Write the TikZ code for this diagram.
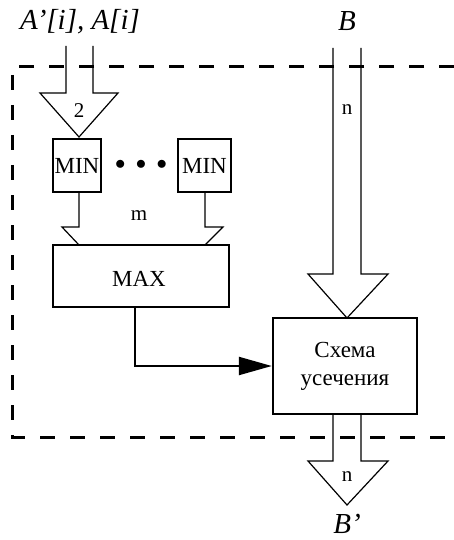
\documentclass[tikz,border=0pt]{standalone}
\usepackage{fontspec}
\setmainfont{Liberation Serif}
\usetikzlibrary{arrows.meta}
\begin{document}
\begin{tikzpicture}[x=1pt,y=-1pt,
  blk/.style={draw,line width=2.4pt,inner sep=0pt},
  btxt/.style={font=\fontsize{23}{28}\selectfont,inner sep=0pt,align=center},
  bus/.style={draw,line width=1.2pt,line join=miter},
  lbl/.style={font=\fontsize{29}{31}\selectfont\itshape,inner sep=0pt},
  small/.style={font=\fontsize{21}{23}\selectfont,inner sep=0pt},
  frame/.style={line width=3pt,dash pattern=on 15pt off 15pt}]
\useasboundingbox (0,0) rectangle (454,540);
% frame
\draw[frame] (454,67) -- (12,67) -- (12,437) -- (454,437);
% labels
\node[lbl] (ain) at (80,22) {A’[i], A[i]};
\node[lbl] (bin) at (347,21) {B};
\node[lbl] (bout) at (347,524) {B’};
% blocks
\node[blk,minimum width=48pt,minimum height=53pt] (min1) at (77,165.5) {};
\node[btxt] (min1t) at (77,166) {MIN};
\node[blk,minimum width=53pt,minimum height=53pt] (min2) at (204.5,165.5) {};
\node[btxt] (min2t) at (204.5,166) {MIN};
\node[inner sep=0pt] (dots) at (141,165) {\fontsize{22}{24}\selectfont$\bullet\;\bullet\;\bullet$};
\node[blk,minimum width=176pt,minimum height=62pt] (max) at (141,276) {};
\node[btxt] (maxt) at (139,279) {MAX};
\node[blk,minimum width=144pt,minimum height=96pt] (cut) at (345,366) {};
\node[btxt] (cutt) at (345,366) {Схема\\усечения};
% input bus 2
\draw[bus] (66,46) -- (66,93) -- (40,93) -- (79,137) -- (118,93) -- (93,93) -- (93,46);
\node[small] (two) at (79,111) {2};
% m bus
\draw[bus] (79,192) -- (79,227) -- (62,227) -- (79,245);
\draw[bus] (205,192) -- (205,227) -- (223,227) -- (205,245);
\node[small] (m) at (139,216) {m};
% B bus
\draw[bus] (333,48) -- (333,274) -- (308,274) -- (347,318) -- (388,274) -- (361,274) -- (361,48);
\node[small] (n1) at (347,110) {n};
% output bus
\draw[bus] (333,414) -- (333,461) -- (308,461) -- (347,505) -- (388,461) -- (361,461) -- (361,414);
\node[small] (n2) at (347,477) {n};
% MAX -> cut
\coordinate (mx) at (135,307);
\draw[line width=2.2pt,-{Triangle[length=33pt,width=18pt]}] (mx) |- (cut.west);
\end{tikzpicture}
\end{document}
